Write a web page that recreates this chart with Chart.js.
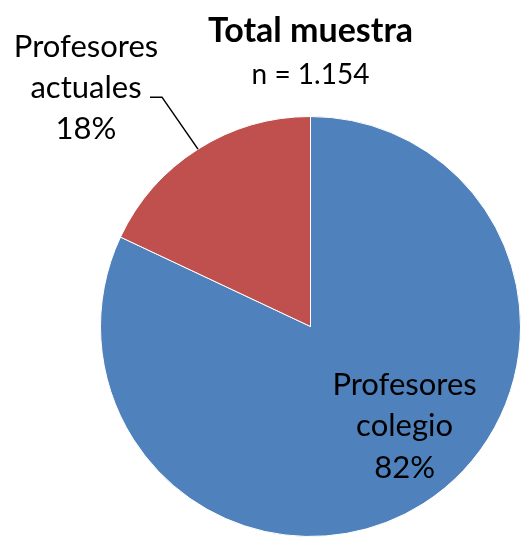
<!DOCTYPE html>
<html>
<head>
<meta charset="utf-8">
<script src="https://cdn.jsdelivr.net/npm/chart.js@4"></script>
<style>
  html, body { margin: 0; padding: 0; background: #fff; }
  #wrap { width: 521px; height: 537px; }
</style>
</head>
<body>
<div id="wrap"><canvas id="pieChart"></canvas></div>
<script>
const categories = ['Profesores colegio', 'Profesores actuales'];
const shares = [82, 18];
const sliceColors = ['#4F81BD', '#C0504D'];
const chartTitle = 'Total muestra';
const chartSubTitle = 'n = 1.154';

const FONT = 'Lato, "Open Sans", sans-serif';

// writes title, sample size and the two slice labels
const labelPlugin = {
  id: 'pieLabels',
  afterDraw: function (chart) {
    var ctx = chart.ctx;
    var arcs = chart.getDatasetMeta(0).data;
    var big = arcs[0];
    var small = arcs[1];
    var cx = big.x, cy = big.y, r = big.outerRadius;

    ctx.save();
    ctx.fillStyle = '#000';
    ctx.textAlign = 'center';
    ctx.textBaseline = 'middle';

    ctx.font = 'bold 34px ' + FONT;
    ctx.fillText(chartTitle, cx, 31);
    ctx.font = '28px ' + FONT;
    ctx.fillText(chartSubTitle, cx, 75);

    // label inside the large slice
    ctx.font = '31px ' + FONT;
    var lx = cx + r * 0.448, ly = cy + r * 0.475;
    ctx.fillText(categories[0].split(' ')[0], lx, ly - 41);
    ctx.fillText(categories[0].split(' ')[1], lx, ly);
    ctx.fillText(shares[0] + '%', lx, ly + 42);

    // outside label with leader line for the small slice
    var mid = (small.startAngle + small.endAngle) / 2;
    var ex = cx + Math.cos(mid) * r;
    var ey = cy + Math.sin(mid) * r;
    ctx.strokeStyle = '#000';
    ctx.lineWidth = 1.5;
    ctx.beginPath();
    ctx.moveTo(ex, ey);
    ctx.lineTo(ex - 36, ey - 52);
    ctx.lineTo(ex - 48, ey - 52);
    ctx.stroke();

    ctx.fillText(categories[1].split(' ')[0], 86, 47);
    ctx.fillText(categories[1].split(' ')[1], 86, 88);
    ctx.fillText(shares[1] + '%', 86, 129);
    ctx.restore();
  }
};

var ctxPie = document.getElementById('pieChart').getContext('2d');
new Chart(ctxPie, {
  type: 'pie',
  data: {
    labels: categories,
    datasets: [
      {
        data: shares,
        backgroundColor: sliceColors,
        borderColor: '#ffffff',
        borderWidth: 1
      }
    ]
  },
  options: {
    responsive: true,
    maintainAspectRatio: false,
    animation: false,
    rotation: 0,
    layout: {
      padding: { top: 116, left: 100, right: 0, bottom: 0 }
    },
    plugins: {
      legend: { display: false },
      tooltip: { enabled: false }
    }
  },
  plugins: [labelPlugin]
});
</script>
</body>
</html>
